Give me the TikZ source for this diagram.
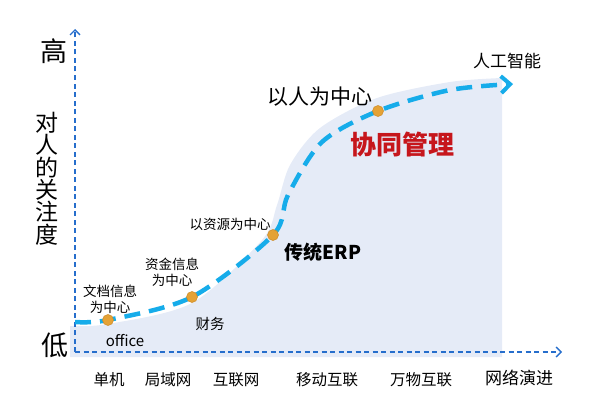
\documentclass[tikz,border=0pt]{standalone}
\usepackage{fontspec}
\setmainfont{Noto Sans CJK SC}
\usetikzlibrary{calc,arrows.meta}
\definecolor{axisblue}{RGB}{38,110,204}
\definecolor{trendblue}{RGB}{22,172,234}
\definecolor{shadeblue}{RGB}{229,235,247}
\definecolor{dotgold}{RGB}{228,162,54}
\definecolor{dotedge}{RGB}{204,138,40}
\definecolor{cored}{RGB}{198,22,28}
\tikzstyle{axis}  = [line width=1.2pt, draw=axisblue, dash pattern=on 5pt off 3.5pt, -{Straight Barb[length=5pt,width=10pt,line width=1.3pt]}]
\tikzstyle{trend} = [line width=4.5pt, draw=trendblue, dash pattern=on 16pt off 9pt, -{Straight Barb[length=9pt,width=17pt,line width=4pt]}]
\tikzstyle{dot}   = [circle, minimum size=11pt, inner sep=0pt, fill=dotgold, draw=dotedge, line width=0.5pt]
\tikzstyle{lbl}   = [inner sep=0pt, align=center, font=\fontsize{13.5}{16}\selectfont]
\tikzstyle{net}   = [inner sep=0pt, font=\fontsize{15.5}{18}\selectfont]
\begin{document}
\begin{tikzpicture}[x=1pt,y=1pt]
        \useasboundingbox (0,0) rectangle (600,408);
        \fill[shadeblue] plot[smooth] coordinates {(70,82) (108,84) (192,105) (262,168) (277,203) (290,243) (320,280) (377,310) (450,326) (502,330)} -- (502,51) -- (70,51) -- cycle;

        \coordinate (o) at (75,56);
        \coordinate (ytop) at (75,379);
        \coordinate (xend) at (562,56);
        \draw[axis] (o) -- (ytop);
        \draw[axis] (o) -- (xend);

        \coordinate (c0) at (75,86);
        \coordinate (c1) at (108,88);
        \coordinate (c2) at (192,111);
        \coordinate (c3) at (273,173);
        \coordinate (c4) at (288,213);
        \coordinate (c5) at (322,266);
        \coordinate (c6) at (378,297);
        \coordinate (c7) at (450,318);
        \coordinate (c8) at (513,324);
        \draw[trend] plot[smooth] coordinates {(c0) (c1) (c2) (c3) (c4) (c5) (c6) (c7) (c8)};

        \node[dot] (d1) at (c1) {};
        \node[dot] (d2) at (c2) {};
        \node[dot] (d3) at (c3) {};
        \node[dot] (d4) at (c6) {};

        \node[inner sep=0pt, font=\fontsize{27}{30}\selectfont] (high) at (54,357) {高};
        \node[inner sep=0pt, font=\fontsize{27}{30}\selectfont] (low) at (55,63) {低};
        \node[inner sep=0pt, align=center, font=\fontsize{23}{22.4}\selectfont] (care) at (47,229.5) {对\\人\\的\\关\\注\\度};

        \node[inner sep=0pt, font=\fontsize{21}{24}\selectfont] (people) at (320,311) {以人为中心};
        \node[inner sep=0pt, font=\fontsize{17}{20}\selectfont] (ai) at (507,347) {人工智能};
        \node[inner sep=0pt, text=cored, font=\bfseries\fontsize{26}{30}\selectfont] (collab) at (402,263) {协同管理};
        \node[inner sep=0pt, font=\bfseries\fontsize{19}{22}\selectfont] (erp) at (323,156) {传统ERP};
        \node[lbl] (res) at (230,184) {以资源为中心};
        \node[lbl] (fund) at (172,136) {资金信息\\为中心};
        \node[lbl] (doc) at (110,109) {文档信息\\为中心};
        \node[inner sep=0pt, font=\fontsize{14.5}{17}\selectfont] (fin) at (210,84) {财务};
        \node[inner sep=0pt, font=\fontsize{15}{18}\selectfont] (off) at (125,67) {office};

        \node[net] (n1) at (109,28) {单机};
        \node[net] (n2) at (168,28) {局域网};
        \node[net] (n3) at (236,28) {互联网};
        \node[net] (n4) at (327,28) {移动互联};
        \node[net] (n5) at (421,28) {万物互联};
        \node[inner sep=0pt, font=\fontsize{17}{20}\selectfont] (n6) at (519,30) {网络演进};
    \end{tikzpicture}
\end{document}
